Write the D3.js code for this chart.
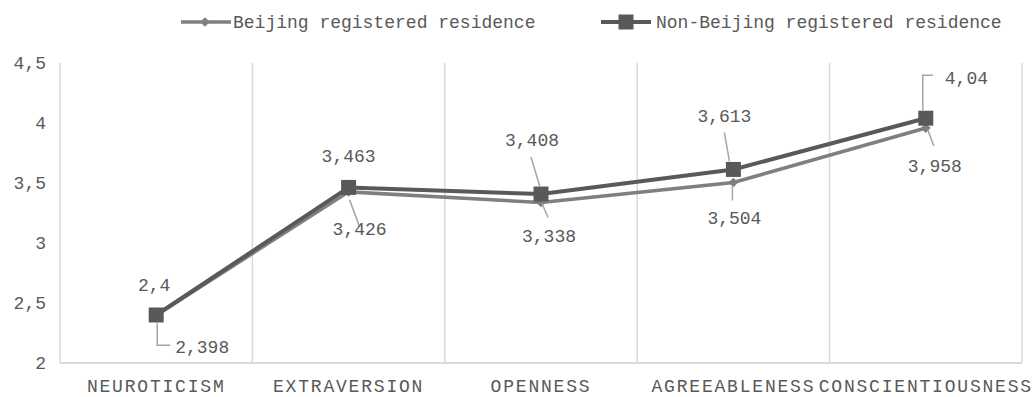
<!DOCTYPE html>
<html>
<head>
<meta charset="utf-8">
<script src="https://cdn.jsdelivr.net/npm/d3@7"></script>
<style>
  body { margin: 0; background: #fff; }
  text { font-family: "Liberation Mono", monospace; fill: #595959; }
</style>
</head>
<body>
<div id="chart"></div>
<script>
const width = 1033,
height = 397;

const categories = ["NEUROTICISM", "EXTRAVERSION", "OPENNESS", "AGREEABLENESS", "CONSCIENTIOUSNESS"]
const beijing = [2.398, 3.426, 3.338, 3.504, 3.958]
const nonBeijing = [2.4, 3.463, 3.408, 3.613, 4.04]
const yTicks = [2, 2.5, 3, 3.5, 4, 4.5]
const seriesNames = ["Beijing registered residence", "Non-Beijing registered residence"]

const fmt = v => String(v).replace(".", ",")

const svg = d3.select("#chart")
            .append("svg")
            .attr("width", width)
            .attr("height", height)

const x = d3.scaleBand()
            .domain(categories)
            .range([60, 1022])
            .paddingInner(0)
            .paddingOuter(0)
const cx = c => x(c) + x.bandwidth() / 2

const y = d3.scaleLinear()
            .domain([2, 4.5])
            .range([363, 63])

// vertical gridlines at category boundaries
const edges = categories.map(c => x(c)).concat([x.range()[1]])
svg.selectAll("grid")
  .data(edges)
  .join("line")
  .attr("x1", d => d).attr("x2", d => d)
  .attr("y1", y(4.5)).attr("y2", y(2))
  .attr("stroke", "#d9d9d9")
  .attr("stroke-width", 1.5)

svg.append("line")
  .attr("x1", 60).attr("x2", 1022)
  .attr("y1", y(2)).attr("y2", y(2))
  .attr("stroke", "#d9d9d9")
  .attr("stroke-width", 2)

// y axis
const yAxis = svg.append("g")
  .attr("transform", "translate(46,0)")
  .call(d3.axisLeft(y).tickValues(yTicks).tickFormat(fmt).tickSize(0).tickPadding(0))
yAxis.select(".domain").remove()
yAxis.selectAll("text")
  .style("font-family", "Liberation Mono")
  .style("font-size", "18px")
  .attr("fill", "#595959")

// x axis
const xAxis = svg.append("g")
  .attr("transform", `translate(0,${y(2)})`)
  .call(d3.axisBottom(x).tickSize(0).tickPadding(0))
xAxis.select(".domain").remove()
xAxis.selectAll("text")
  .attr("dy", null)
  .attr("y", 29)
  .style("font-family", "Liberation Mono")
  .style("font-size", "18px")
  .style("letter-spacing", "1.8px")
  .attr("fill", "#595959")

const line = d3.line()
  .x((d, i) => cx(categories[i]))
  .y(d => y(d))

const colB = "#7f7f7f", colN = "#595959"

svg.append("path")
  .datum(beijing)
  .attr("d", line)
  .attr("fill", "none")
  .attr("stroke", colB)
  .attr("stroke-width", 3.5)

svg.append("path")
  .datum(nonBeijing)
  .attr("d", line)
  .attr("fill", "none")
  .attr("stroke", colN)
  .attr("stroke-width", 4)

const diamond = d3.symbol().type(d3.symbolDiamond2).size(60)
const square = d3.symbol().type(d3.symbolSquare).size(225)

svg.selectAll("diamonds")
  .data(beijing)
  .join("path")
  .attr("d", diamond)
  .attr("transform", (d, i) => `translate(${cx(categories[i])},${y(d)})`)
  .attr("fill", colB)

svg.selectAll("squares")
  .data(nonBeijing)
  .join("path")
  .attr("d", square)
  .attr("transform", (d, i) => `translate(${cx(categories[i])},${y(d)})`)
  .attr("fill", colN)

// data labels: text offset [dx, dy, anchor] and leader polyline, relative to the point
const layoutN = [
  {t: [-2, -24, "middle"], lead: null},
  {t: [0, -25, "middle"], lead: null},
  {t: [-9, -48, "middle"], lead: [[-10, -37], [-1, -7]]},
  {t: [-9, -47, "middle"], lead: [[-9, -37], [-4, -8]]},
  {t: [19, -34, "start"], lead: [[-3, -8], [-3, -43], [7, -43]]}
]
const layoutB = [
  {t: [19, 38, "start"], lead: [[1, 8], [1, 30], [14, 30]]},
  {t: [11, 43, "middle"], lead: [[1, 8], [11, 35]]},
  {t: [8, 40, "middle"], lead: [[1, 1], [7, 15]]},
  {t: [1, 41, "middle"], lead: [[-1, 4], [-1, 18]]},
  {t: [9, 44, "middle"], lead: [[2, 2], [8, 18]]}
]

function drawLabels(values, layout) {
  const g = svg.append("g")
  values.forEach((v, i) => {
    const px = cx(categories[i]), py = y(v)
    const L = layout[i]
    if (L.lead) {
      g.append("polyline")
        .attr("points", L.lead.map(p => [px + p[0], py + p[1]]).join(" "))
        .attr("fill", "none")
        .attr("stroke", "#a6a6a6")
        .attr("stroke-width", 1.5)
    }
    g.append("text")
      .attr("x", px + L.t[0])
      .attr("y", py + L.t[1])
      .attr("text-anchor", L.t[2])
      .style("font-size", "18px")
      .text(fmt(v))
  })
}
drawLabels(nonBeijing, layoutN)
drawLabels(beijing, layoutB)

// legend
const legend = svg.append("g").attr("transform", "translate(0,22)")
legend.append("line").attr("x1", 181).attr("x2", 231).attr("stroke", colB).attr("stroke-width", 3.5)
legend.append("path").attr("d", diamond).attr("transform", "translate(205,0)").attr("fill", colB)
legend.append("text").attr("x", 233).attr("y", 6).style("font-size", "18px").text(seriesNames[0])
legend.append("line").attr("x1", 601).attr("x2", 651).attr("stroke", colN).attr("stroke-width", 4)
legend.append("path").attr("d", square).attr("transform", "translate(626,0)").attr("fill", colN)
legend.append("text").attr("x", 656).attr("y", 6).style("font-size", "18px").text(seriesNames[1])
</script>
</body>
</html>
